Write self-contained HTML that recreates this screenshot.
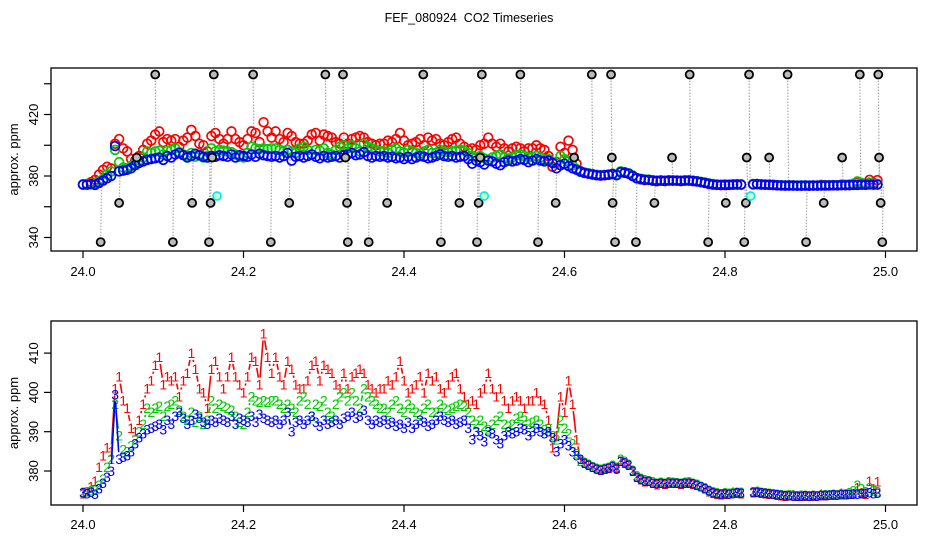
<!DOCTYPE html>
<html><head><meta charset="utf-8"><style>
html,body{margin:0;padding:0;background:#fff;}
svg{display:block;font-family:"Liberation Sans",Arial,sans-serif;}
</style></head><body>
<svg id="chart" width="936" height="540" viewBox="0 0 936 540" xmlns="http://www.w3.org/2000/svg">
<rect width="936" height="540" fill="#fff"/>
<text x="469" y="22" font-size="12.5" text-anchor="middle" xml:space="preserve">FEF_080924  CO2 Timeseries</text>
<g id="top"></g>
<g id="bot"></g>
</svg>
<script>
// ---- data ----
const startTime = 24.0;
const timeStep = 0.005;
const blueSeries = [
374.5,374.3,374.6,374.2,375.5,377,378.5,380,399.5,383,
383.5,384,385,387,388.5,389.5,390.5,391,391.5,392,
390.5,393,392,394,395,393.5,392,393,394.5,393.5,
392.5,392,393,392.5,393.5,393,392.5,394,392,393.5,
393,392.5,394,392.5,394.5,393.5,393,392.5,393,392,
393,395,390,392.5,393,392,393,394,392.5,391.5,
393,392,392.5,393,392,393.5,394,395,393.5,394,
395.5,393,392,393,392.5,393,392,392.5,391.5,392,
391,392.5,391,392,393,392.5,391.5,392,393,394,
393,392.5,393,392,392.5,393,391,388,390,389,
387.5,390,389.5,388,387,389,390,389.5,390,391,
390.5,389,390,391,390,389.5,390,388.5,385,387,
388,386.5,385,384,383,382,381.5,381,380.5,380.3,
380.5,380.8,381.2,380.5,382.5,382.2,381.5,380,378.5,378,
377.5,377.5,377,376.8,377,376.8,377,377,377,376.8,
377,377,376.8,376.5,376,375.5,375,374.5,374.3,374.2,
374.3,374.2,374.3,374.5,374.4,null,null,374.6,374.7,374.5,
374.4,374.3,374.2,374,373.9,373.8,373.8,373.7,373.7,373.7,
373.8,373.7,373.8,373.7,373.8,373.9,373.9,374,373.9,374,
374,374.1,374.2,374.2,374.3,374.4,374.5,374.3,374.4,null];
const greenSeries = [
374.6,374.8,375,375.2,376.5,378,381,383,397,389,
385.5,385,386.5,388,390,392,396,395,396,396.5,
394,396.5,397,398,395.5,394,393,395,392.5,394,
392,393,398,396,397,396.5,396,395.5,394,392.5,
392,395,399,398,397.5,398,397.5,398,398,397,
396,397,396,395,398,399,397,394,397,396.5,
398,395,394,397,399,400,398,400,398,396,
401,399,398,397,396,396,395,397,398,396,
395,397,396,395,394.5,396,397,395,395,397,
396,395.5,396,396.5,397,396.5,395,393,392,393,
391.5,390.5,392,393,394,392,391.5,392,393.5,394,
393,392,392.5,393,392,390.5,391,389,388,393,
391,389.5,387,384.5,382.5,382.3,381.8,381.2,380.8,380.5,
380.7,381,381.5,381,383,382.5,381.8,380.3,378.8,378.2,
377.8,377.6,377.3,377,377.2,377,377.3,377.2,377.1,377,
377.2,377.3,377,376.7,376.2,375.8,375.2,374.8,374.5,374.3,
374.5,374.4,374.5,374.7,374.6,null,null,374.8,374.9,374.6,
374.5,374.4,374.3,374.1,374,373.9,374,373.9,373.8,373.9,
373.9,373.8,373.9,373.8,373.9,374,374,374.1,374,374.2,
374.3,374.5,375,376.5,375.5,374.8,375.8,375,374.8,null];
const redSeries = [
374.3,374.8,376,377.5,381,384,386,385,401,404,
398,396,391,390,393,397,401,403,407,409,
402,404,403,404,399,403,405,410,406,401,
400,396,406,408,404,401,404,409,404,402,
400,404,409,408,402,415,409,405,409,404,
402,408,406,402,401,401,403,407,408,403,
407,406,405,402,401,405,401,404,405,406,
405,402,401,400,401,401,403,402,404,408,
403,400,401,402,404,400,405,403,404,401,
400,402,404,405,401,399,397,398,397,400,
401,405,401,399,401,398,396,398,399,398,
396,398,398,400,398,397,393,386,389,399,
395,403,397,388,383,382,381.5,381,380.6,380.3,
380.5,380.8,381.5,380.8,382.6,382,381.5,380,378.5,377.8,
377.3,377.5,377,376.6,377,376.7,377.2,377,377,376.7,
377,377.1,376.7,376.4,376,375.5,374.8,374.4,374.2,374,
374.1,374.4,374.6,374.4,374.3,null,null,374.5,374.6,374.4,
374.3,374.2,374.1,373.9,373.8,373.7,373.8,374,373.7,373.6,
373.7,373.6,373.7,373.8,374.2,373.8,373.9,373.9,374,374.4,
374,374.1,374.3,375.8,374.5,374.2,377.5,375.5,377.3,null];
const outlierTimes = [24.090,24.163,24.212,24.302,24.324,24.424,24.497,24.545,24.634,24.658,24.756,24.830,24.878,24.968,24.991,
 24.067,24.161,24.327,24.495,24.612,24.659,24.734,24.827,24.855,24.946,24.992,
 24.045,24.136,24.159,24.257,24.329,24.379,24.469,24.493,24.589,24.660,24.712,24.801,24.826,24.923,24.994,
 24.022,24.112,24.157,24.234,24.330,24.356,24.446,24.491,24.567,24.663,24.689,24.779,24.824,24.901,24.996];
const outlierValues = [446,446,446,446,446,446,446,446,446,446,446,446,446,446,446,
 392,392,392,392,392,392,392,392,392,392,392,
 362.5,362.5,362.5,362.5,362.5,362.5,362.5,362.5,362.5,362.5,362.5,362.5,362.5,362.5,362.5,
 337,337,337,337,337,337,337,337,337,337,337,337,337,337,337];
const flagTimes = [24.167,24.500,24.832];
const flagValues = [367,367,367];
const xTicks = [24.0,24.2,24.4,24.6,24.8,25.0];
const xTickLabels = ["24.0","24.2","24.4","24.6","24.8","25.0"];
const topYTicks = [340,360,380,400,420,440];
const topYLabels = ["340","","380","","420",""];
const botYTicks = [380,390,400,410];
const botYLabels = ["380","390","400","410"];

// ---- layout ----
const NS = "http://www.w3.org/2000/svg";
const boxL = 51, boxR = 917;
const xs = t => 83 + (t - 24.0) * 802.5;
const yTop = v => 176 - (v - 380) * 1.5375;
const yBot = v => 471 - (v - 380) * 3.93;
const timeAt = i => startTime + timeStep * i;

function mk(parent, tag, attrs) {
  const e = document.createElementNS(NS, tag);
  for (const k in attrs) e.setAttribute(k, attrs[k]);
  parent.appendChild(e);
  return e;
}

function axes(g, top, bottom, yfn, yticks, ylabels, tickLabelY) {
  const box = mk(g, 'rect', {x: boxL, y: top, width: boxR - boxL, height: bottom - top, fill: 'none', stroke: '#000', 'stroke-width': 1.3});
  
  
  xTicks.forEach((t, i) => {
    const ln = mk(g, 'line', {x1: xs(t), x2: xs(t), y1: bottom, y2: bottom + 7, stroke: '#000', 'stroke-width': 1.2});
    
    
    const tx = mk(g, 'text', {x: xs(t), y: tickLabelY, 'font-size': 13, 'text-anchor': 'middle'});
    tx.textContent = xTickLabels[i];
    
    
  });
  yticks.forEach((v, i) => {
    const y = yfn(v);
    const ln = mk(g, 'line', {x1: boxL - 7, x2: boxL, y1: y, y2: y, stroke: '#000', 'stroke-width': 1.2});
    
    
    if (ylabels[i]) {
      const tx = mk(g, 'text', {x: 0, y: 0, 'font-size': 13, 'text-anchor': 'middle', transform: `translate(38,${y}) rotate(-90)`});
      tx.textContent = ylabels[i];
      
      
    }
  });
  const yt = mk(g, 'text', {x: 0, y: 0, 'font-size': 13, 'text-anchor': 'middle', transform: `translate(18,${(top + bottom) / 2}) rotate(-90)`});
  yt.textContent = 'approx. ppm';
  
  
}

// ---- top panel ----
const gt = document.getElementById('top');
axes(gt, 68, 251, yTop, topYTicks, topYLabels, 276);
outlierTimes.forEach((t, i) => {
  const idx = Math.min(blueSeries.length - 1, Math.round((t - startTime) / timeStep));
  let base = blueSeries[idx];
  if (base == null) base = 374.5;
  const ln = mk(gt, 'line', {x1: xs(t), x2: xs(t) + 1, y1: yTop(outlierValues[i]), y2: yTop(base), stroke: '#aaa', 'stroke-width': 1.2, 'stroke-dasharray': '1.5,1.5'});
  
  
});
[[redSeries, '#f00', 'red-point'], [greenSeries, '#0c0', 'green-point'], [blueSeries, '#00f', 'blue-point']].forEach(([arr, col, nm]) => {
  arr.forEach((v, i) => {
    if (v == null) return;
    const c = mk(gt, 'circle', {cx: xs(timeAt(i)), cy: yTop(v), r: 4.4, fill: 'none', stroke: col, 'stroke-width': 1.7});
    
    
  });
});
outlierTimes.forEach((t, i) => {
  const c = mk(gt, 'circle', {cx: xs(t), cy: yTop(outlierValues[i]), r: 4, fill: '#bbb', stroke: '#000', 'stroke-width': 1.8});
  
  
});
flagTimes.forEach((t, i) => {
  const c = mk(gt, 'circle', {cx: xs(t), cy: yTop(flagValues[i]), r: 4, fill: '#cfc', stroke: '#0ee', 'stroke-width': 1.7});
  
  
});

// ---- bottom panel ----
const gb = document.getElementById('bot');
axes(gb, 321, 505, yBot, botYTicks, botYLabels, 529);
const gap = 7;
[[redSeries, '#f00', '1', 'series-1'], [greenSeries, '#0c0', '2', 'series-2'], [blueSeries, '#00f', '3', 'series-3']].forEach(([arr, col, ch, nm]) => {
  for (let i = 0; i < arr.length - 1; i++) {
    if (arr[i] == null || arr[i + 1] == null) continue;
    const x1 = xs(timeAt(i)), y1 = yBot(arr[i]), x2 = xs(timeAt(i + 1)), y2 = yBot(arr[i + 1]);
    const d = Math.hypot(x2 - x1, y2 - y1);
    if (d <= 2 * gap) continue;
    const ux = (x2 - x1) / d, uy = (y2 - y1) / d;
    const ln = mk(gb, 'line', {x1: x1 + ux * gap, y1: y1 + uy * gap, x2: x2 - ux * gap, y2: y2 - uy * gap, stroke: col, 'stroke-width': 1.6});
    
    
  }
  arr.forEach((v, i) => {
    if (v == null) return;
    const tx = mk(gb, 'text', {x: xs(timeAt(i)), y: yBot(v) + 5, 'font-size': 14, 'text-anchor': 'middle', fill: col});
    tx.textContent = ch;
    
    
  });
});
</script>
</body></html>
